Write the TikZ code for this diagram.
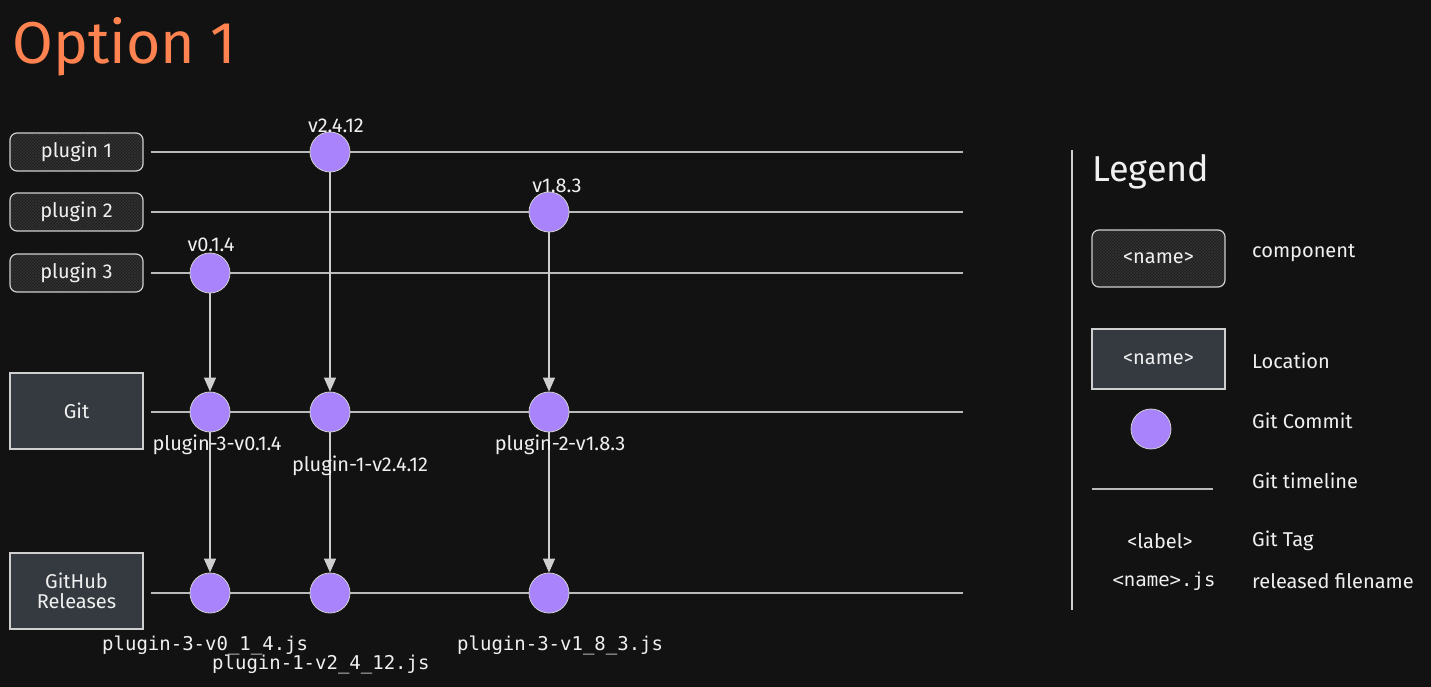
\documentclass[tikz,border=0pt]{standalone}
\usepackage{fontspec}
\setmainfont{Fira Sans}
\newfontfamily\monof{DejaVu Sans Mono}
\usetikzlibrary{arrows.meta,patterns,calc}
\definecolor{bgc}{HTML}{121212}
\definecolor{linec}{HTML}{CFCFCF}
\definecolor{txt}{HTML}{F0F0F0}
\definecolor{compfill}{HTML}{1E1E1E}
\definecolor{hatchc}{HTML}{343434}
\definecolor{locfill}{HTML}{343A40}
\definecolor{commitc}{HTML}{A883FB}
\definecolor{titlec}{HTML}{FF8350}
\pgfdeclarelayer{bg}
\pgfsetlayers{bg,main}
\newcommand{\lab}{\fontsize{20}{23}\selectfont}
\begin{document}
\begin{tikzpicture}[x=1pt,y=-1pt,
  comp/.style={draw=linec, line width=1.2pt, rounded corners=7pt,
    preaction={fill=compfill}, pattern=crosshatch, pattern color=hatchc,
    minimum width=133pt, minimum height=38pt, text=txt, font=\lab},
  loc/.style={draw=linec, line width=1.2pt, fill=locfill,
    minimum width=133pt, minimum height=76pt, text=txt, font=\lab, align=center},
  commit/.style={circle, fill=commitc, draw=linec, line width=0.8pt,
    minimum size=40pt, inner sep=0pt},
  tl/.style={draw=linec!90!black, line width=1.8pt},
  arr/.style={draw=linec, line width=1.2pt, -{Triangle[length=14pt,width=12pt]}},
  lab/.style={text=txt, font=\lab, inner sep=0pt},
  mono/.style={text=txt, font=\monof\fontsize{19}{22}\selectfont, inner sep=0pt}]

\begin{pgfonlayer}{bg}
  \fill[bgc] (0,0) rectangle (1431,687);
\end{pgfonlayer}
\useasboundingbox (0,0) rectangle (1431,687);

% title
\node[anchor=base west, inner sep=0pt, text=titlec, font=\fontsize{59}{62}\selectfont] (title) at (12,64) {Option 1};

% components
\node[comp] (p1) at (76.5,152) {plugin 1};
\node[comp] (p2) at (76.5,212) {plugin 2};
\node[comp] (p3) at (76.5,273) {plugin 3};
% locations
\node[loc] (git) at (76.5,411) {Git};
\node[loc] (gh) at (76.5,591) {GitHub\\[-3pt]Releases};

% end points of timelines
\coordinate (e1) at (963,152);
\coordinate (e2) at (963,212);
\coordinate (e3) at (963,273);
\coordinate (e4) at (963,412);
\coordinate (e5) at (963,593);

% commits
\node[commit] (c1) at (330,152) {};
\node[commit] (c2) at (549,212) {};
\node[commit] (c3) at (210,273) {};
\node[commit] (g3) at (210,412) {};
\node[commit] (g1) at (330,412) {};
\node[commit] (g2) at (549,412) {};
\node[commit] (r3) at (210,593) {};
\node[commit] (r1) at (330,593) {};
\node[commit] (r2) at (549,593) {};

% timelines
\begin{pgfonlayer}{bg}
  \draw[tl] ($(p1.east)+(7,0)$) -- (e1);
  \draw[tl] ($(p2.east)+(7,0)$) -- (e2);
  \draw[tl] ($(p3.east)+(7,0)$) -- (e3);
  \draw[tl, line width=2.4pt] ($(p1.east |- git.east)+(7,1)$) -- (e4);
  \draw[tl] ($(gh.east)+(7,2)$) -- (e5);
\end{pgfonlayer}

% arrows
\draw[arr] (c1) -- (g1);
\draw[arr] (c2) -- (g2);
\draw[arr] (c3) -- (g3);
\draw[arr] (g1) -- (r1);
\draw[arr] (g2) -- (r2);
\draw[arr] (g3) -- (r3);

% version labels
\node[lab] (t1) at (336,126) {v2.4.12};
\node[lab] (t2) at (557,186) {v1.8.3};
\node[lab] (t3) at (211,245) {v0.1.4};

% git tags
\node[lab] (gt3) at (217,445) {plugin-3-v0.1.4};
\node[lab] (gt1) at (360,466) {plugin-1-v2.4.12};
\node[lab] (gt2) at (560,445) {plugin-2-v1.8.3};

% filenames
\node[mono, anchor=west] (f3) at (102,645.6) {plugin-3-v0\_1\_4.js};
\node[mono, anchor=west] (f1) at (212,664.6) {plugin-1-v2\_4\_12.js};
\node[mono, anchor=west] (f2) at (457,645.6) {plugin-3-v1\_8\_3.js};

% legend
\coordinate (lt) at (1072,150);
\coordinate (lb) at (1072,610);
\draw[linec, line width=1.5pt] (lt) -- (lb);
\node[anchor=west, inner sep=0pt, text=txt, font=\fontsize{36}{40}\selectfont] (leg) at (1092,172) {Legend};

\node[comp, minimum height=57pt] (lcomp) at (1158.5,258.5) {<name>};
\node[lab, anchor=west] (lcompt) at (1252,253) {component};

\node[loc, minimum height=60pt] (lloc) at (1158.5,359) {<name>};
\node[lab, anchor=west] (lloct) at (1252,361) {Location};

\node[commit] (lcom) at (1151,429) {};
\node[lab, anchor=west] (lcomt) at (1252,421) {Git Commit};

\coordinate (ll1) at (1092,489);
\coordinate (ll2) at (1213,489);
\draw[tl] (ll1) -- (ll2);
\node[lab, anchor=west] (lllt) at (1252,481) {Git timeline};

\node[lab] (ltag) at (1160,541) {<label>};
\node[lab, anchor=west] (ltagt) at (1252,541) {Git Tag};

\node[mono] (lfile) at (1164,581) {<name>.js};
\node[lab, anchor=west] (lfilet) at (1252,581) {released filename};
\end{tikzpicture}
\end{document}
